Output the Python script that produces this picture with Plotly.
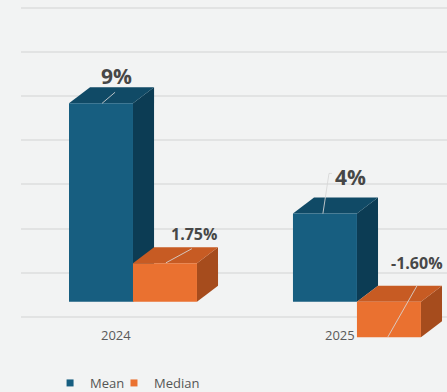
import plotly.graph_objects as go

# ---- data ----
years = ["2024", "2025"]
mean_vals = [9.0, 4.0]
median_vals = [1.75, -1.60]
mean_labels = ["9%", "4%"]
median_labels = ["1.75%", "-1.60%"]

# ---- style / geometry ----
BW = 0.2857          # bar width in category units
DX = 0.094           # 3D depth (x)
DY = 0.727           # 3D depth (y, in %)
MEAN_C = dict(front="#175e80", top="#104a66", side="#0c3c54")
MED_C = dict(front="#ea7130", top="#c75b23", side="#a64c1d")
BG = "#f2f3f3"

fig = go.Figure()


def box(xc0, v, col):
    x0, x1 = xc0, xc0 + BW
    if v >= 0:
        lo, hi = 0.0, v
    else:
        lo, hi = v, 0.0
    side = ([x1, x1, x1 + DX, x1 + DX, x1], [lo, hi, hi + DY, lo + DY, lo])
    top = ([x0, x1, x1 + DX, x0 + DX, x0], [hi, hi, hi + DY, hi + DY, hi])
    front = ([x0, x1, x1, x0, x0], [lo, lo, hi, hi, lo])
    for (xs, ys), c in ((side, col["side"]), (top, col["top"]), (front, col["front"])):
        fig.add_trace(go.Scatter(x=xs, y=ys, fill="toself", fillcolor=c, mode="none",
                                 hoverinfo="skip", showlegend=False))


for i in range(len(years)):
    box(i - BW, mean_vals[i], MEAN_C)
    box(i, median_vals[i], MED_C)

# legend entries (one legend box each, to reproduce the compact spacing)
fig.add_trace(go.Scatter(x=[None], y=[None], mode="markers", name="Mean", legend="legend",
                         marker=dict(symbol="square", size=7, color=MEAN_C["front"])))
fig.add_trace(go.Scatter(x=[None], y=[None], mode="markers", name="Median", legend="legend2",
                         marker=dict(symbol="square", size=7, color=MED_C["front"])))

# data labels (manual positions like the original)
lab_dx_mean = [0.067, 0.116]
lab_dy_mean = [1.23, 1.68]
lab_dx_med = [0.129, 0.125]
lab_y_med = [3.09, 1.77]
sizes_mean = [21, 21]
sizes_med = [16, 16]
ann = []
for i in range(len(years)):
    mx = i - BW / 2 + lab_dx_mean[i]
    my = mean_vals[i] + lab_dy_mean[i]
    ann.append(dict(x=mx, y=my, text="<b>%s</b>" % mean_labels[i], showarrow=False,
                    font=dict(size=sizes_mean[i], color="#474747", family="Open Sans")))
    dx = i + BW / 2 + lab_dx_med[i]
    ann.append(dict(x=dx, y=lab_y_med[i], text="<b>%s</b>" % median_labels[i], showarrow=False,
                    font=dict(size=sizes_med[i], color="#474747", family="Open Sans")))
    ann.append(dict(x=i - 0.076, y=-1.5, text=years[i], showarrow=False,
                    font=dict(size=13, color="#5a5a5a", family="Open Sans")))

# leader lines
lead = [
    ([-0.080, -0.138], [mean_vals[0] + 0.5, mean_vals[0]]),
    ([0.263, 0.147], [median_vals[0] + 0.66, median_vals[0] + 0.02]),
    ([0.888, 0.875, 0.848], [mean_vals[1] + 1.82, mean_vals[1] + 1.82, mean_vals[1]]),
    ([1.268, 1.138], [0.73, median_vals[1] + 0.01]),
]
for xs, ys in lead:
    fig.add_trace(go.Scatter(x=xs, y=ys, mode="lines", line=dict(color="rgba(215,215,215,0.85)", width=1),
                             hoverinfo="skip", showlegend=False))

leg_common = dict(orientation="h", xref="container", yref="container", y=0.023,
                  xanchor="left", yanchor="middle",
                  font=dict(size=13, color="#555555", family="Open Sans"),
                  bgcolor="rgba(0,0,0,0)", itemwidth=30)

fig.update_layout(
    width=447, height=392,
    margin=dict(l=21, r=0, t=0, b=47, autoexpand=False),
    paper_bgcolor=BG, plot_bgcolor=BG,
    annotations=ann,
    showlegend=True,
    legend=dict(x=0.112, **leg_common),
    legend2=dict(x=0.255, **leg_common),
    xaxis=dict(range=[-0.5, 1.402], showgrid=False, zeroline=False, showticklabels=False,
               showline=False, fixedrange=True),
    yaxis=dict(range=[-1.955, 13.682], tickmode="linear", tick0=-0.68, dtick=2,
               showgrid=True, gridcolor="#e2e3e3", gridwidth=1.5, zeroline=False,
               showticklabels=False, showline=False, fixedrange=True),
)

fig.write_html("out.html")
